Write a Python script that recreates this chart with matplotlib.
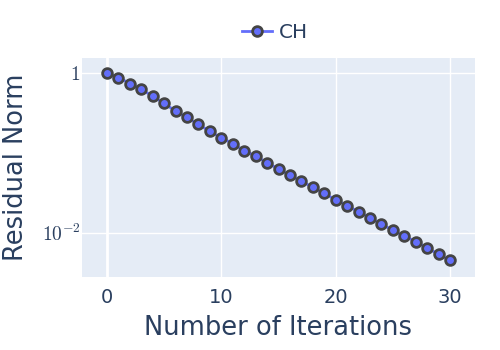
import matplotlib
matplotlib.use("Agg")
import matplotlib.pyplot as plt
from matplotlib.ticker import FixedLocator, FixedFormatter

# data
iterations = list(range(31))
residual = [1.0, 0.871, 0.733, 0.618, 0.510, 0.413, 0.331, 0.276, 0.226, 0.185,
            0.154, 0.130, 0.106, 0.0911, 0.0752, 0.0627, 0.0524, 0.0441, 0.0371, 0.0311,
            0.0258, 0.0219, 0.0183, 0.0154, 0.0128, 0.0108, 0.0091, 0.00779, 0.00645, 0.00543,
            0.00452]
series_name = "CH"
x_ticks = [0, 10, 20, 30]
y_ticks = [1, 1e-2]
y_tick_labels = [r"$1$", r"$10^{-2}$"]

txt = "#2a3f5f"
plt.rcParams["font.family"] = ["DejaVu Sans"]
plt.rcParams["mathtext.fontset"] = "cm"

fig = plt.figure(figsize=(5, 3.5), dpi=100)
ax = fig.add_axes([0.164, 0.2094, 0.786, 0.624])
ax.set_facecolor("#E5ECF6")
for s in ax.spines.values():
    s.set_visible(False)

ax.set_yscale("log")
ax.set_xlim(-2.19, 32.19)
ax.set_ylim(10 ** -2.548, 10 ** 0.18)

ax.xaxis.set_major_locator(FixedLocator(x_ticks))
ax.yaxis.set_major_locator(FixedLocator(y_ticks))
ax.yaxis.set_major_formatter(FixedFormatter(y_tick_labels))
ax.yaxis.set_minor_locator(FixedLocator([]))
ax.grid(True, color="white", linewidth=1)
ax.set_axisbelow(True)
ax.axvline(0, color="white", linewidth=2, zorder=0.5)

ax.tick_params(axis="both", length=0, colors=txt, labelsize=14)
ax.tick_params(axis="x", pad=8)
ax.tick_params(axis="y", pad=1)

ax.plot(iterations, residual, "-o", color="#636EFA", linewidth=2,
        markersize=7, markerfacecolor="#636EFA", markeredgecolor="#444444",
        markeredgewidth=2, label=series_name, clip_on=False, zorder=3)

ax.set_xlabel("Number of Iterations", fontsize=18.5, color=txt)
ax.xaxis.set_label_coords(0.5, -0.235)
ax.xaxis.label.set_va("center")
ax.set_ylabel("Residual Norm", fontsize=18.5, color=txt)
ax.yaxis.set_label_coords(-0.168, 0.5)
ax.yaxis.label.set_va("center")

leg = fig.legend(loc="center", bbox_to_anchor=(0.55, 0.906), frameon=False,
                 fontsize=14.4, handlelength=1.5, handletextpad=0.3)
for t in leg.get_texts():
    t.set_color(txt)

fig.savefig("out.png", dpi=100)
